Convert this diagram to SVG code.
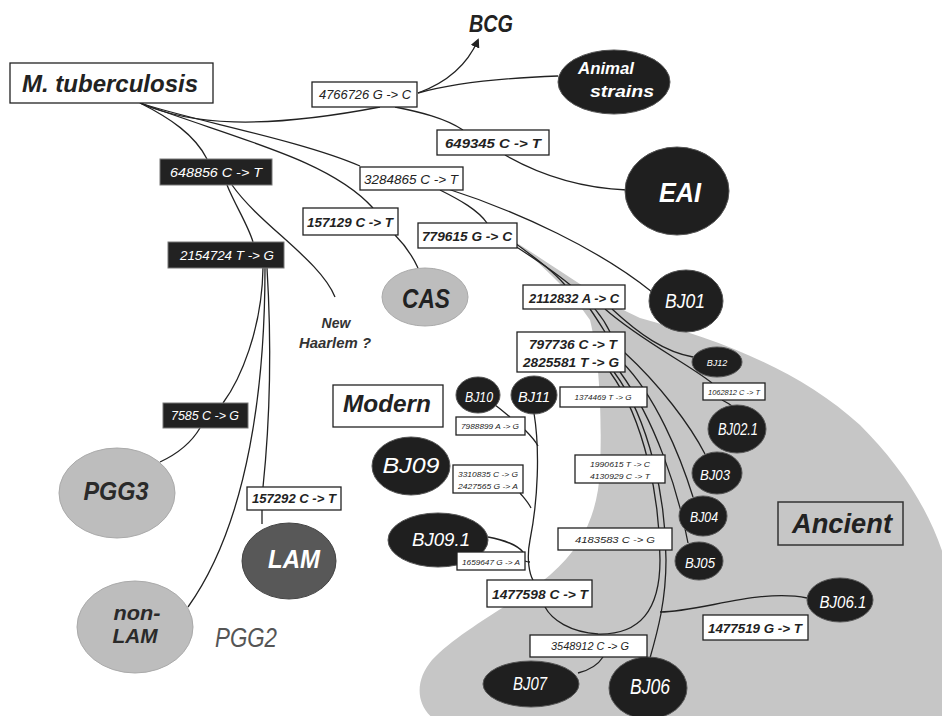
<svg xmlns="http://www.w3.org/2000/svg" width="942" height="716" viewBox="0 0 942 716">
<defs>
<marker id="arr" viewBox="0 0 10 10" refX="8" refY="5" markerWidth="7" markerHeight="7" orient="auto-start-reverse">
<path d="M0,0 L10,5 L0,10 z" fill="#222"/>
</marker>
<style>
.t{font-family:"Liberation Sans",Arial,sans-serif;font-style:italic;font-weight:bold;text-anchor:middle}
.n{font-weight:normal}
.w{fill:#fff}
.k{fill:#222}
.dk{fill:#1f1f1f;stroke:#555;stroke-width:1}
.md{fill:#585858;stroke:#444;stroke-width:1}
.lt{fill:#bdbdbd;stroke:#aaa;stroke-width:1}
.box{fill:#fff;stroke:#222;stroke-width:1.3}
.dbox{fill:#222;stroke:#777;stroke-width:1}
.c{fill:none;stroke:#222;stroke-width:1.3}
</style>
</defs>
<rect width="942" height="716" fill="#fff"/>
<path id="ancient-region" d="M517,243 C560,270 600,300 640,318 C720,340 800,370 860,425 C900,465 930,510 945,560 L945,720 L435,720 C415,705 415,680 432,660 C460,630 520,600 550,575 C585,545 598,510 600,470 C602,420 600,360 590,320 C570,290 540,265 517,243 Z" fill="#c6c6c6"/>

<g id="connectors">
<path class="c" d="M140,103 C190,125 260,130 380,107"/>
<path class="c" d="M140,103 C190,120 300,140 360,166"/>
<path class="c" d="M140,103 C240,140 330,160 373,208"/>
<path class="c" d="M140,103 C170,118 195,135 207,159"/>
<path class="c" d="M418,93 C440,85 465,70 478,40" marker-end="url(#arr)"/>
<path class="c" d="M418,93 C450,84 500,78 558,76"/>
<path class="c" d="M395,107 C420,112 445,118 463,130"/>
<path class="c" d="M505,155 C540,175 580,188 627,190"/>
<path class="c" d="M440,190 C460,200 478,210 487,223"/>
<path class="c" d="M445,188 C520,212 600,250 652,292"/>
<path class="c" d="M395,235 C405,245 412,255 418,268"/>
<path class="c" d="M515,243 C535,258 552,270 565,285"/>
<path class="c" d="M515,246 C560,275 595,300 610,332"/>
<path class="c" d="M590,309 C595,316 600,324 605,332"/>
<path class="c" d="M612,309 C640,335 665,352 693,357"/>
<path class="c" d="M605,309 C640,340 690,365 712,383"/>
<path class="c" d="M722,400 C726,402 730,404 733,407"/>
<path class="c" d="M624,352 C660,385 690,425 705,454"/>
<path class="c" d="M622,362 C655,395 680,455 693,497"/>
<path class="c" d="M620,372 C655,420 678,490 688,543"/>
<path class="c" d="M614,372 C650,420 666,500 666,560 C666,600 658,630 650,658"/>
<path class="c" d="M610,372 C645,420 660,500 660,560 C660,610 640,635 598,634 C570,632 552,620 545,607"/>
<path class="c" d="M807,598 C760,588 700,612 660,612"/>
<path class="c" d="M603,657 C598,665 590,670 578,673"/>
<path class="c" d="M534,413 C540,450 538,500 530,540 C526,560 530,575 533,580"/>
<path class="c" d="M495,405 C502,410 506,414 510,417"/>
<path class="c" d="M525,430 C530,435 535,440 538,446"/>
<path class="c" d="M520,493 C524,498 528,502 531,508"/>
<path class="c" d="M488,537 C505,540 518,546 523,552"/>
<path class="c" d="M525,561 C527,562 529,562 530,562"/>
<path class="c" d="M227,185 C235,205 248,225 253,242"/>
<path class="c" d="M232,185 C260,225 320,260 335,297"/>
<path class="c" d="M263,268 C262,330 240,380 223,403"/>
<path class="c" d="M267,268 C272,350 270,420 263,487"/>
<path class="c" d="M265,268 C265,380 250,520 188,607"/>
<path class="c" d="M200,428 C190,445 175,455 160,462"/>
<path class="c" d="M262,510 L262,524"/>
</g>

<g id="m-tuberculosis"><rect class="box" x="10" y="63" width="203" height="40"/><text class="t k" x="110" y="92" font-size="24" textLength="176" lengthAdjust="spacingAndGlyphs">M. tuberculosis</text></g>
<g id="bcg"><text class="t k" x="491" y="32" font-size="24" textLength="44" lengthAdjust="spacingAndGlyphs">BCG</text></g>
<g id="animal-strains"><ellipse class="dk" cx="614" cy="82" rx="56" ry="32"/><text class="t w" x="606" y="74" font-size="16" textLength="56" lengthAdjust="spacingAndGlyphs">Animal</text><text class="t w" x="622" y="97" font-size="16" textLength="64" lengthAdjust="spacingAndGlyphs">strains</text></g>
<g id="eai"><ellipse class="dk" cx="677" cy="191" rx="52" ry="44"/><text class="t w" x="680" y="202" font-size="27" textLength="42" lengthAdjust="spacingAndGlyphs">EAI</text></g>
<g id="cas"><ellipse class="lt" cx="425" cy="297" rx="43" ry="29"/><text class="t k" x="426" y="308" font-size="27" textLength="48" lengthAdjust="spacingAndGlyphs">CAS</text></g>
<g id="new-haarlem"><text class="t" fill="#333" x="336" y="328" font-size="14">New</text><text class="t" fill="#333" x="335" y="348" font-size="14" textLength="72" lengthAdjust="spacingAndGlyphs">Haarlem ?</text></g>
<g id="modern"><rect class="box" x="333" y="385" width="110" height="42"/><text class="t k" x="387" y="412" font-size="24" textLength="88" lengthAdjust="spacingAndGlyphs">Modern</text></g>
<g id="ancient"><rect x="778" y="502" width="125" height="43" fill="#c6c6c6" stroke="#333" stroke-width="1.5"/><text class="t k" x="842" y="533" font-size="27" textLength="100" lengthAdjust="spacingAndGlyphs">Ancient</text></g>

<g id="bj01"><ellipse class="dk" cx="686" cy="301" rx="37" ry="31"/><text class="t n w" x="685" y="308" font-size="20" textLength="40" lengthAdjust="spacingAndGlyphs">BJ01</text></g>
<g id="bj12"><ellipse class="dk" cx="717" cy="362" rx="25" ry="15"/><text class="t n w" x="717" y="366" font-size="9">BJ12</text></g>
<g id="bj02-1"><ellipse class="dk" cx="737" cy="429" rx="29" ry="24"/><text class="t n w" x="738" y="435" font-size="16" textLength="40" lengthAdjust="spacingAndGlyphs">BJ02.1</text></g>
<g id="bj03"><ellipse class="dk" cx="717" cy="473" rx="25" ry="21"/><text class="t n w" x="715" y="480" font-size="15" textLength="30" lengthAdjust="spacingAndGlyphs">BJ03</text></g>
<g id="bj04"><ellipse class="dk" cx="703" cy="516" rx="24" ry="20"/><text class="t n w" x="704" y="522" font-size="15" textLength="28" lengthAdjust="spacingAndGlyphs">BJ04</text></g>
<g id="bj05"><ellipse class="dk" cx="699" cy="561" rx="24" ry="19"/><text class="t n w" x="700" y="568" font-size="15" textLength="30" lengthAdjust="spacingAndGlyphs">BJ05</text></g>
<g id="bj06-1"><ellipse class="dk" cx="840" cy="600" rx="33" ry="22"/><text class="t n w" x="843" y="608" font-size="17" textLength="47" lengthAdjust="spacingAndGlyphs">BJ06.1</text></g>
<g id="bj06"><ellipse class="dk" cx="648" cy="688" rx="39" ry="31"/><text class="t n w" x="650" y="694" font-size="22" textLength="40" lengthAdjust="spacingAndGlyphs">BJ06</text></g>
<g id="bj07"><ellipse class="dk" cx="531" cy="684" rx="48" ry="23"/><text class="t n w" x="530" y="690" font-size="18" textLength="34" lengthAdjust="spacingAndGlyphs">BJ07</text></g>
<g id="bj10"><ellipse class="dk" cx="478" cy="395" rx="22" ry="18"/><text class="t n w" x="479" y="402" font-size="15" textLength="28" lengthAdjust="spacingAndGlyphs">BJ10</text></g>
<g id="bj11"><ellipse class="dk" cx="534" cy="395" rx="23" ry="19"/><text class="t n w" x="534" y="402" font-size="15" textLength="32" lengthAdjust="spacingAndGlyphs">BJ11</text></g>
<g id="bj09"><ellipse class="dk" cx="411" cy="466" rx="39" ry="29"/><text class="t n w" x="411" y="473" font-size="22" textLength="57" lengthAdjust="spacingAndGlyphs">BJ09</text></g>
<g id="bj09-1"><ellipse class="dk" cx="438" cy="540" rx="50" ry="27"/><text class="t n w" x="441" y="546" font-size="19" textLength="58" lengthAdjust="spacingAndGlyphs">BJ09.1</text></g>
<g id="pgg3"><ellipse class="lt" cx="117" cy="493" rx="58" ry="45"/><text class="t" fill="#2a2a2a" x="116" y="500" font-size="26" textLength="65" lengthAdjust="spacingAndGlyphs">PGG3</text></g>
<g id="lam"><ellipse class="md" cx="289" cy="561" rx="47" ry="38"/><text class="t w" x="294" y="568" font-size="26" textLength="52" lengthAdjust="spacingAndGlyphs">LAM</text></g>
<g id="non-lam"><ellipse class="lt" cx="135" cy="627" rx="58" ry="46"/><text class="t" fill="#2a2a2a" x="137" y="620" font-size="21" textLength="47" lengthAdjust="spacingAndGlyphs">non-</text><text class="t" fill="#2a2a2a" x="135" y="643" font-size="21" textLength="45" lengthAdjust="spacingAndGlyphs">LAM</text></g>
<g id="pgg2"><text class="t n" fill="#555" x="246" y="647" font-size="27" textLength="62" lengthAdjust="spacingAndGlyphs">PGG2</text></g>

<g id="l4766726"><rect class="box" x="312" y="82" width="105" height="25" stroke="#666"/><text class="t n k" x="365" y="99" font-size="12" textLength="92" lengthAdjust="spacingAndGlyphs">4766726 G -&gt; C</text></g>
<g id="l649345"><rect class="box" x="437" y="130" width="112" height="25"/><text class="t k" x="493" y="148" font-size="13" textLength="96" lengthAdjust="spacingAndGlyphs">649345 C -&gt; T</text></g>
<g id="l3284865"><rect class="box" x="360" y="167" width="103" height="23" stroke="#666"/><text class="t n k" x="411" y="184" font-size="12" textLength="94" lengthAdjust="spacingAndGlyphs">3284865 C -&gt; T</text></g>
<g id="l648856"><rect class="dbox" x="160" y="159" width="112" height="26"/><text class="t n w" x="216" y="177" font-size="13" textLength="92" lengthAdjust="spacingAndGlyphs">648856 C -&gt; T</text></g>
<g id="l157129"><rect class="box" x="303" y="208" width="95" height="27"/><text class="t k" x="350" y="227" font-size="13" textLength="86" lengthAdjust="spacingAndGlyphs">157129 C -&gt; T</text></g>
<g id="l2154724"><rect class="dbox" x="168" y="242" width="116" height="26"/><text class="t n w" x="227" y="260" font-size="12" textLength="94" lengthAdjust="spacingAndGlyphs">2154724 T -&gt; G</text></g>
<g id="l779615"><rect class="box" x="418" y="223" width="99" height="25" stroke="#666"/><text class="t k" x="467" y="241" font-size="13" textLength="90" lengthAdjust="spacingAndGlyphs">779615 G -&gt; C</text></g>
<g id="l2112832"><rect class="box" x="523" y="285" width="102" height="24"/><text class="t k" x="574" y="303" font-size="13" textLength="90" lengthAdjust="spacingAndGlyphs">2112832 A -&gt; C</text></g>
<g id="l797736"><rect class="box" x="517" y="332" width="108" height="40"/><text class="t k" x="573" y="349" font-size="13" textLength="88" lengthAdjust="spacingAndGlyphs">797736 C -&gt; T</text><text class="t k" x="571" y="367" font-size="13" textLength="96" lengthAdjust="spacingAndGlyphs">2825581 T -&gt; G</text></g>
<g id="l1062812"><rect class="box" x="703" y="383" width="62" height="17"/><text class="t n k" x="734" y="395" font-size="7" textLength="52" lengthAdjust="spacingAndGlyphs">1062812 C -&gt; T</text></g>
<g id="l1374469"><rect class="box" x="560" y="387" width="87" height="20"/><text class="t n k" x="603" y="400" font-size="8" textLength="57" lengthAdjust="spacingAndGlyphs">1374469 T -&gt; G</text></g>
<g id="l7988899"><rect class="box" x="456" y="417" width="69" height="18" stroke="#555"/><text class="t n k" x="490" y="429" font-size="8" textLength="58" lengthAdjust="spacingAndGlyphs">7988899 A -&gt; G</text></g>
<g id="l3310835"><rect class="box" x="453" y="465" width="70" height="28" stroke="#555"/><text class="t n k" x="488" y="477" font-size="8" textLength="60" lengthAdjust="spacingAndGlyphs">3310835 C -&gt; G</text><text class="t n k" x="488" y="489" font-size="8" textLength="60" lengthAdjust="spacingAndGlyphs">2427565 G -&gt; A</text></g>
<g id="l1990615"><rect class="box" x="575" y="455" width="90" height="28"/><text class="t n k" x="620" y="467" font-size="8" textLength="60" lengthAdjust="spacingAndGlyphs">1990615 T -&gt; C</text><text class="t n k" x="620" y="479" font-size="8" textLength="60" lengthAdjust="spacingAndGlyphs">4130929 C -&gt; T</text></g>
<g id="l4183583"><rect class="box" x="558" y="528" width="114" height="22"/><text class="t n k" x="615" y="543" font-size="9" textLength="80" lengthAdjust="spacingAndGlyphs">4183583 C -&gt; G</text></g>
<g id="l1659647"><rect class="box" x="457" y="552" width="68" height="18" stroke="#555"/><text class="t n k" x="491" y="565" font-size="8" textLength="58" lengthAdjust="spacingAndGlyphs">1659647 G -&gt; A</text></g>
<g id="l1477598"><rect class="box" x="487" y="580" width="105" height="27"/><text class="t k" x="540" y="599" font-size="13" textLength="96" lengthAdjust="spacingAndGlyphs">1477598 C -&gt; T</text></g>
<g id="l3548912"><rect class="box" x="530" y="635" width="117" height="22"/><text class="t n k" x="590" y="650" font-size="10" textLength="78" lengthAdjust="spacingAndGlyphs">3548912 C -&gt; G</text></g>
<g id="l1477519"><rect class="box" x="703" y="615" width="105" height="25"/><text class="t k" x="755" y="633" font-size="12" textLength="94" lengthAdjust="spacingAndGlyphs">1477519 G -&gt; T</text></g>
<g id="l7585"><rect class="dbox" x="163" y="403" width="85" height="25"/><text class="t n w" x="205" y="420" font-size="12" textLength="68" lengthAdjust="spacingAndGlyphs">7585 C -&gt; G</text></g>
<g id="l157292"><rect class="box" x="247" y="487" width="94" height="23"/><text class="t k" x="294" y="503" font-size="12" textLength="84" lengthAdjust="spacingAndGlyphs">157292 C -&gt; T</text></g>
</svg>
